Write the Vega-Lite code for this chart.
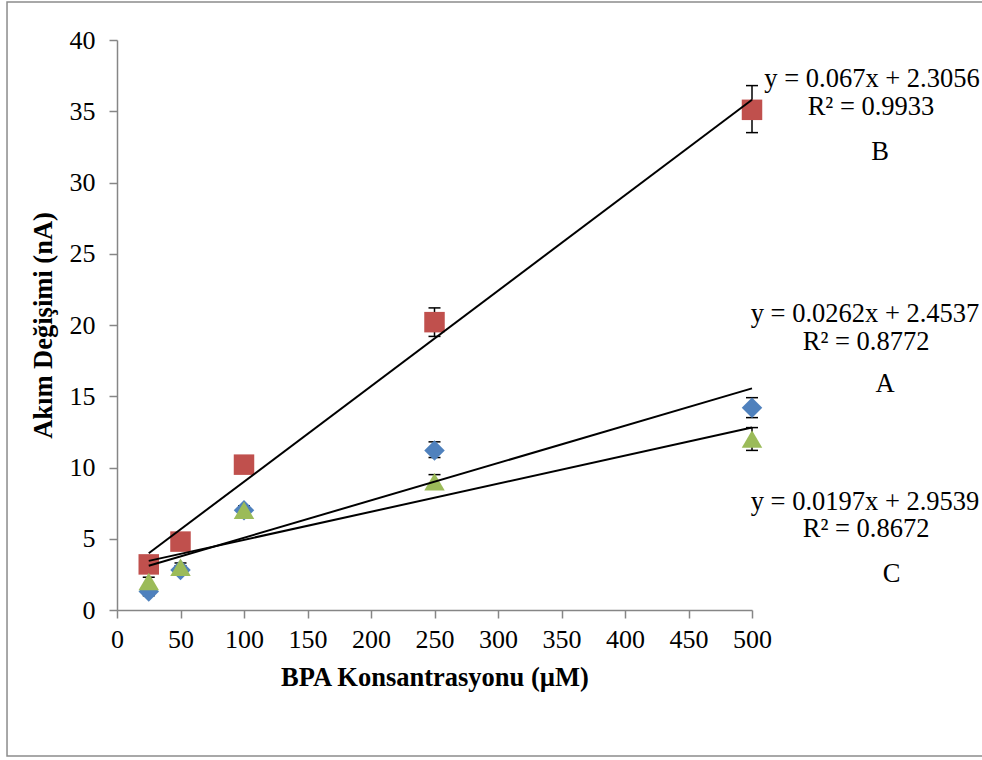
{
  "$schema": "https://vega.github.io/schema/vega-lite/v6.json",
  "width": 635,
  "height": 570,
  "autosize": "none",
  "padding": {"left": 117, "top": 40, "right": 230, "bottom": 150},
  "background": "white",
  "config": {
    "view": {"stroke": null},
    "font": "Liberation Serif"
  },
  "datasets": {
    "measurements": [
      {"series": "A", "conc": 25, "current": 1.3, "lo": 1.0, "hi": 1.6},
      {"series": "A", "conc": 50, "current": 2.8, "lo": 2.5, "hi": 3.1},
      {"series": "A", "conc": 100, "current": 7.0, "lo": 6.7, "hi": 7.3},
      {"series": "A", "conc": 250, "current": 11.2, "lo": 10.7, "hi": 11.8},
      {"series": "A", "conc": 500, "current": 14.2, "lo": 13.5, "hi": 14.9},
      {"series": "B", "conc": 25, "current": 3.2, "lo": 2.9, "hi": 3.5},
      {"series": "B", "conc": 50, "current": 4.8, "lo": 4.5, "hi": 5.1},
      {"series": "B", "conc": 100, "current": 10.2, "lo": 9.9, "hi": 10.5},
      {"series": "B", "conc": 250, "current": 20.2, "lo": 19.2, "hi": 21.2},
      {"series": "B", "conc": 500, "current": 35.1, "lo": 33.5, "hi": 36.8},
      {"series": "C", "conc": 25, "current": 2.0, "lo": 1.7, "hi": 2.3},
      {"series": "C", "conc": 50, "current": 3.0, "lo": 2.7, "hi": 3.3},
      {"series": "C", "conc": 100, "current": 7.0, "lo": 6.7, "hi": 7.3},
      {"series": "C", "conc": 250, "current": 9.0, "lo": 8.5, "hi": 9.5},
      {"series": "C", "conc": 500, "current": 12.0, "lo": 11.2, "hi": 12.8}
    ],
    "fits": [
      {"series": "A", "conc": 25, "current": 3.1087},
      {"series": "A", "conc": 500, "current": 15.5537},
      {"series": "B", "conc": 25, "current": 3.9806},
      {"series": "B", "conc": 500, "current": 35.8056},
      {"series": "C", "conc": 25, "current": 3.4464},
      {"series": "C", "conc": 500, "current": 12.8039}
    ],
    "notes": [
      {"conc": 594.5, "current": 36.7, "text": "y = 0.067x + 2.3056"},
      {"conc": 593.7, "current": 34.74, "text": "R² = 0.9933"},
      {"conc": 600.8, "current": 31.58, "text": "B"},
      {"conc": 589, "current": 20.21, "text": "y = 0.0262x + 2.4537"},
      {"conc": 589.8, "current": 18.25, "text": "R² = 0.8772"},
      {"conc": 604.7, "current": 15.3, "text": "A"},
      {"conc": 589, "current": 7.02, "text": "y = 0.0197x + 2.9539"},
      {"conc": 589.8, "current": 5.12, "text": "R² = 0.8672"},
      {"conc": 610, "current": 1.96, "text": "C"}
    ]
  },
  "encoding": {
    "x": {
      "type": "quantitative",
      "scale": {"domain": [0, 500]},
      "title": "BPA Konsantrasyonu (µM)",
      "axis": {
        "values": [0, 50, 100, 150, 200, 250, 300, 350, 400, 450, 500],
        "grid": false, "domainColor": "#868686", "domainWidth": 1.5,
        "tickColor": "#868686", "tickWidth": 1.5, "tickSize": 8,
        "labelFlush": false, "labelOverlap": false,
        "labelFont": "Liberation Serif", "labelFontSize": 26, "labelColor": "black", "labelPadding": 8,
        "titleFont": "Liberation Serif", "titleFontSize": 26.5, "titleFontWeight": "bold", "titleColor": "black", "titlePadding": 12
      }
    },
    "y": {
      "type": "quantitative",
      "scale": {"domain": [0, 40]},
      "title": "Akım Değişimi (nA)",
      "axis": {
        "values": [0, 5, 10, 15, 20, 25, 30, 35, 40],
        "grid": false, "domainColor": "#868686", "domainWidth": 1.5,
        "tickColor": "#868686", "tickWidth": 1.5, "tickSize": 8,
        "labelFlush": false, "labelOverlap": false,
        "labelFont": "Liberation Serif", "labelFontSize": 26, "labelColor": "black", "labelPadding": 14,
        "titleFont": "Liberation Serif", "titleFontSize": 26.5, "titleFontWeight": "bold", "titleColor": "black", "titlePadding": 12
      }
    }
  },
  "layer": [
    {
      "data": {"values": [{}]},
      "mark": {"type": "rect", "fill": null, "stroke": "#8c8c8c", "strokeWidth": 1.5, "clip": false},
      "encoding": {
        "x": {
          "datum": -86.6, "type": "quantitative", "scale": {"domain": [0, 500]},
          "title": "BPA Konsantrasyonu (µM)",
          "axis": {
            "values": [0, 50, 100, 150, 200, 250, 300, 350, 400, 450, 500],
            "grid": false, "domainColor": "#868686", "domainWidth": 1.5,
            "tickColor": "#868686", "tickWidth": 1.5, "tickSize": 8,
            "labelFlush": false, "labelOverlap": false,
            "labelFont": "Liberation Serif", "labelFontSize": 26, "labelColor": "black", "labelPadding": 8,
            "titleFont": "Liberation Serif", "titleFontSize": 26.5, "titleFontWeight": "bold", "titleColor": "black", "titlePadding": 12
          }
        },
        "x2": {"datum": 720},
        "y": {
          "datum": -10.25, "type": "quantitative", "scale": {"domain": [0, 40]},
          "title": "Akım Değişimi (nA)",
          "axis": {
            "values": [0, 5, 10, 15, 20, 25, 30, 35, 40],
            "grid": false, "domainColor": "#868686", "domainWidth": 1.5,
            "tickColor": "#868686", "tickWidth": 1.5, "tickSize": 8,
            "labelFlush": false, "labelOverlap": false,
            "labelFont": "Liberation Serif", "labelFontSize": 26, "labelColor": "black", "labelPadding": 14,
            "titleFont": "Liberation Serif", "titleFontSize": 26.5, "titleFontWeight": "bold", "titleColor": "black", "titlePadding": 12
          }
        },
        "y2": {"datum": 42.67}
      }
    },
    {
      "data": {"name": "measurements"},
      "mark": {"type": "rule", "color": "black", "strokeWidth": 1.5},
      "encoding": {
        "x": {"field": "conc"},
        "y": {"field": "lo"},
        "y2": {"field": "hi"}
      }
    },
    {
      "data": {"name": "measurements"},
      "mark": {"type": "point", "shape": "stroke", "size": 144, "color": "black", "strokeWidth": 1.5, "opacity": 1},
      "encoding": {
        "x": {"field": "conc"},
        "y": {"field": "lo"}
      }
    },
    {
      "data": {"name": "measurements"},
      "mark": {"type": "point", "shape": "stroke", "size": 144, "color": "black", "strokeWidth": 1.5, "opacity": 1},
      "encoding": {
        "x": {"field": "conc"},
        "y": {"field": "hi"}
      }
    },
    {
      "data": {"name": "measurements"},
      "mark": {"type": "point", "filled": true, "size": 420, "opacity": 1},
      "encoding": {
        "x": {"field": "conc"},
        "y": {"field": "current"},
        "color": {"field": "series", "type": "nominal", "legend": null,
                  "scale": {"domain": ["A", "B", "C"], "range": ["#4F81BD", "#C0504D", "#9BBB59"]}},
        "shape": {"field": "series", "type": "nominal", "legend": null,
                  "scale": {"domain": ["A", "B", "C"], "range": ["diamond", "square", "triangle-up"]}}
      }
    },
    {
      "data": {"name": "fits"},
      "mark": {"type": "line", "color": "black", "strokeWidth": 2},
      "encoding": {
        "x": {"field": "conc"},
        "y": {"field": "current"},
        "detail": {"field": "series", "type": "nominal"}
      }
    },
    {
      "data": {"name": "notes"},
      "mark": {"type": "text", "font": "Liberation Serif", "fontSize": 26.5, "color": "black", "align": "center", "baseline": "alphabetic", "clip": false},
      "encoding": {
        "x": {"field": "conc"},
        "y": {"field": "current"},
        "text": {"field": "text"}
      }
    }
  ]
}
